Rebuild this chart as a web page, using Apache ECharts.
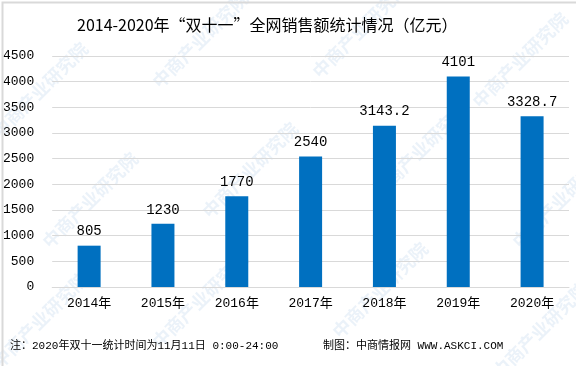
<!DOCTYPE html>
<html><head><meta charset="utf-8">
<script src="https://cdn.jsdelivr.net/npm/echarts@6/dist/echarts.min.js"></script>
<style>html,body{margin:0;padding:0;background:#fff}#c{width:576px;height:366px}</style>
</head><body><div id="c"></div>
<script>
const categories = ['2014年','2015年','2016年','2017年','2018年','2019年','2020年'];
const sales = [805, 1230, 1770, 2540, 3143.2, 4101, 3328.7];
const salesLabels = ['805','1230','1770','2540','3143.2','4101','3328.7'];
const title = '2014-2020年“双十一”全网销售额统计情况（亿元）';
const note = '注：2020年双十一统计时间为11月11日 0:00-24:00';
const source = '制图：中商情报网 WWW.ASKCI.COM';

const chart = echarts.init(document.getElementById('c'), null, {renderer:'canvas'});
const font = "'Liberation Mono','Noto Sans CJK SC',monospace";
const wm = [];
[[40,90],[200,40],[360,30],[520,60],[90,200],[250,170],[420,150],[560,200],[40,320],[200,300],[380,290],[540,330]].forEach(p=>{
  wm.push({type:'text', x:p[0], y:p[1], rotation:Math.PI/4, z:-1,
    style:{text:'中商产业研究院', fill:'rgba(120,170,215,0.15)', font:"bold 18px 'Noto Sans CJK SC'", textAlign:'center', textVerticalAlign:'middle'}});
});
chart.setOption({
  animation:false,
  title:{text:title, left:72, top:12, textStyle:{fontSize:16, fontWeight:'normal', color:'#000', fontFamily:"'Noto Sans CJK SC'"}},
  grid:{left:51, right:7, top:56, bottom:79},
  xAxis:{type:'category', data:categories,
    axisLine:{lineStyle:{color:'#d9d9d9'}}, axisTick:{show:false},
    axisLabel:{color:'#000', fontSize:13, margin:10, fontFamily:font}},
  yAxis:{type:'value', min:0, max:4500, interval:500,
    axisLine:{show:false}, axisTick:{show:false},
    splitLine:{lineStyle:{color:'#d9d9d9'}},
    axisLabel:{color:'#000', fontSize:13, margin:18, fontFamily:font, formatter:v=>String(v)}},
  series:[{type:'bar', data:sales, barWidth:23, itemStyle:{color:'#0070C0'},
    label:{show:true, position:'top', distance:7, color:'#000', fontSize:14, fontFamily:font,
      formatter:p=>salesLabels[p.dataIndex]}}],
  graphic:wm.concat([
    {type:'rect', left:0, top:0, z:100, shape:{width:575, height:365}, style:{fill:null, stroke:'#d9d9d9', lineWidth:2}},
    {type:'text', left:10, top:341, style:{text:note, fill:'#000', font:"11px "+font}},
    {type:'text', left:323, top:341, style:{text:source, fill:'#000', font:"11px "+font}}
  ])
});
</script></body></html>
